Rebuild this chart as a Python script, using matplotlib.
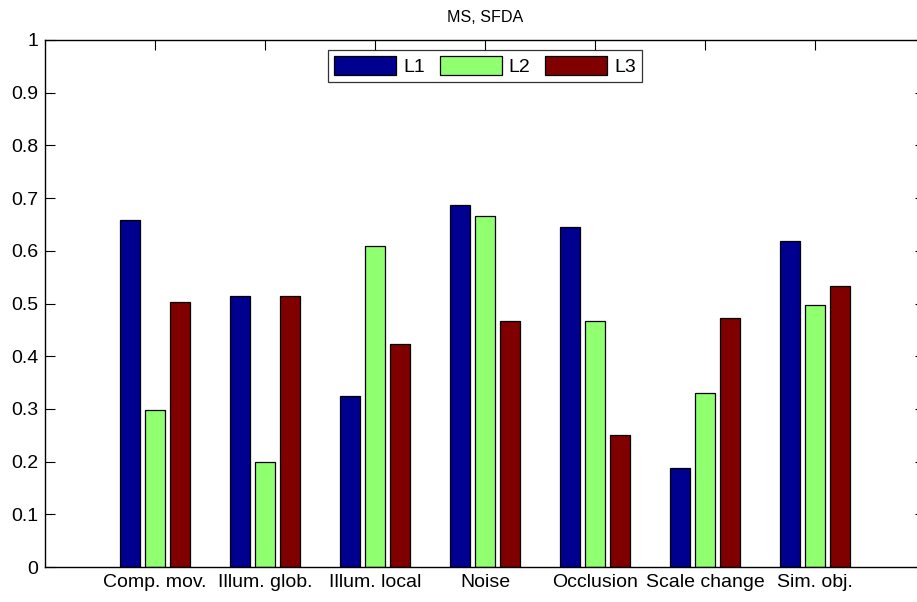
import numpy as np
import matplotlib
matplotlib.use('Agg')
import matplotlib.pyplot as plt

categories = ['Comp. mov.', 'Illum. glob.', 'Illum. local', 'Noise',
              'Occlusion', 'Scale change', 'Sim. obj.']
l1 = [0.659, 0.514, 0.325, 0.686, 0.646, 0.187, 0.619]
l2 = [0.298, 0.199, 0.610, 0.666, 0.467, 0.330, 0.497]
l3 = [0.502, 0.514, 0.423, 0.467, 0.251, 0.473, 0.534]
series_names = ['L1', 'L2', 'L3']
colors = ['#000090', '#90FF70', '#800000']

plt.rcParams['font.family'] = ['Liberation Sans', 'DejaVu Sans']

fig = plt.figure(figsize=(9.17, 6.02), dpi=100)
ax = fig.add_axes([45 / 917, 35 / 602, 880 / 917, 527 / 602])

x = np.arange(1, len(categories) + 1)
offset = 0.225
width = 0.18
for i, (vals, name) in enumerate(zip([l1, l2, l3], series_names)):
    ax.bar(x + (i - 1) * offset, vals, width, color=colors[i],
           edgecolor='black', linewidth=0.9, label=name)

ax.set_xlim(0, 8)
ax.set_ylim(0, 1)
ax.set_xticks(x)
ax.set_xticklabels(categories)
yt = np.round(np.arange(0, 1.01, 0.1), 1)
ax.set_yticks(yt)
ax.set_yticklabels(['0' if v == 0 else ('1' if v == 1 else f'{v:g}') for v in yt])
ax.set_axisbelow(True)
ax.tick_params(direction='in', length=7, width=0.8, top=True, right=True,
               labelsize=14, pad=5)
for s in ax.spines.values():
    s.set_linewidth(1.0)

ax.set_title('MS, SFDA', fontsize=11.6, pad=13)

leg = ax.legend(loc='upper center', bbox_to_anchor=(440 / 880, 0.981),
                ncol=3, fontsize=14, frameon=True, fancybox=False,
                handlelength=3.2, handleheight=1.1, handletextpad=0.35,
                columnspacing=0.75, borderpad=0.3, borderaxespad=0)
leg.get_frame().set_edgecolor('black')
leg.get_frame().set_linewidth(0.9)

fig.savefig('out.png', dpi=100)
